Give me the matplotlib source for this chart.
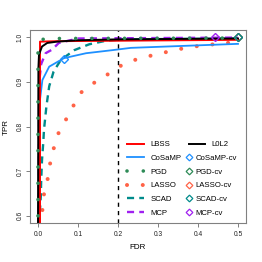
import matplotlib

matplotlib.use("Agg")
import matplotlib.pyplot as plt
from matplotlib.lines import Line2D

plt.rcParams["font.family"] = ["Liberation Sans", "DejaVu Sans"]

# ROC-style curves (FDR, TPR)
lbss_fdr = [0.005, 0.005, 0.05, 0.2, 0.5]
lbss_tpr = [0.58, 0.990, 0.991, 0.992, 0.994]

l0l2_fdr = [0.0, 0.001, 0.0025, 0.01, 0.023, 0.048, 0.098, 0.2, 0.5]
l0l2_tpr = [0.58, 0.93, 0.961, 0.979, 0.987, 0.990, 0.993, 0.995, 0.997]

cosamp_fdr = [0.002, 0.003, 0.005, 0.011, 0.028, 0.065, 0.12, 0.187, 0.232, 0.5]
cosamp_tpr = [0.58, 0.82, 0.86, 0.904, 0.934, 0.953, 0.964, 0.971, 0.976, 0.985]

pgd_fdr = [0.0, 0.0, 0.01, 0.036, 0.5]
pgd_tpr = [0.600, 0.985, 0.995, 0.997, 0.998]

lasso_fdr = [0.011, 0.015, 0.024, 0.030, 0.039, 0.050, 0.069, 0.087, 0.106,
             0.137, 0.170, 0.202, 0.238, 0.275, 0.313, 0.352, 0.390, 0.429,
             0.469, 0.505]
lasso_tpr = [0.613, 0.649, 0.682, 0.716, 0.750, 0.783, 0.814, 0.844, 0.875,
             0.896, 0.914, 0.934, 0.948, 0.957, 0.965, 0.973, 0.979, 0.983,
             0.987, 0.989]

scad_fdr = [0.003, 0.004, 0.007, 0.008, 0.010, 0.013, 0.015, 0.021, 0.028,
            0.039, 0.057, 0.091, 0.128, 0.170, 0.212, 0.5]
scad_tpr = [0.58, 0.600, 0.643, 0.680, 0.725, 0.762, 0.793, 0.845, 0.890,
            0.923, 0.949, 0.971, 0.984, 0.992, 0.995, 0.997]

mcp_fdr = [0.002, 0.003, 0.008, 0.019, 0.035, 0.052, 0.1, 0.5]
mcp_tpr = [0.58, 0.90, 0.94, 0.964, 0.972, 0.987, 0.997, 0.999]

# cross-validated choices (diamonds)
cv_names = ["CoSaMP-cv", "PGD-cv", "LASSO-cv", "SCAD-cv", "MCP-cv"]
cv_fdr = [0.065, 0.5, 0.5, 0.5, 0.442]
cv_tpr = [0.952, 1.0, 1.0, 1.0, 1.0]

RED = "#FF0000"
BLUE = "#1E90FF"
GREEN = "#2E8B57"
SALMON = "#FF6347"
TEAL = "#008B8B"
PURPLE = "#A020F0"
cv_colors = [BLUE, GREEN, SALMON, TEAL, PURPLE]

FRAME = "#808080"

fig = plt.figure(figsize=(2.62, 2.62), dpi=100)
ax = fig.add_axes([30 / 262, 1 - 223 / 262, 216 / 262, 193 / 262])

# dotted / dashed styles (in units of line width)
dot_pgd = (0, (0.01, 4.5))
dot_lasso = (0, (0.01, 3.9))
dash_style = (0, (3.0, 2.2))

ax.plot(lasso_fdr, lasso_tpr, color=SALMON, lw=2.9, linestyle=dot_lasso,
        dash_capstyle="round")
ax.plot(scad_fdr, scad_tpr, color=TEAL, lw=1.7, linestyle=dash_style)
ax.plot(mcp_fdr, mcp_tpr, color=PURPLE, lw=1.7, linestyle=dash_style)
ax.plot(cosamp_fdr, cosamp_tpr, color=BLUE, lw=1.3)
ax.plot(lbss_fdr, lbss_tpr, color=RED, lw=1.4)
ax.plot(l0l2_fdr, l0l2_tpr, color="black", lw=1.4)
ax.plot(pgd_fdr, pgd_tpr, color=GREEN, lw=2.6, linestyle=dot_pgd,
        dash_capstyle="round")

for x, y, c in zip(cv_fdr, cv_tpr, cv_colors):
    ax.plot([x], [y], marker="D", ms=4.2, mfc="none", mec=c, mew=1.0,
            linestyle="none")

ax.axvline(0.2, color="black", lw=1.0, linestyle=(0, (3, 3)))

ax.set_xlim(-0.02, 0.52)
ax.set_ylim(0.584, 1.016)
ax.set_xticks([0.0, 0.1, 0.2, 0.3, 0.4, 0.5])
ax.set_xticklabels(["0.0", "0.1", "0.2", "0.3", "0.4", "0.5"])
ax.set_yticks([0.6, 0.7, 0.8, 0.9, 1.0])
ax.set_yticklabels(["0.6", "0.7", "0.8", "0.9", "1.0"], rotation=90,
                   va="center")
ax.tick_params(axis="both", direction="out", length=3, width=0.7,
               color=FRAME, labelsize=4.8, labelcolor="#222222")
ax.tick_params(axis="x", pad=3.0)
ax.tick_params(axis="y", pad=1.6)
for sp in ax.spines.values():
    sp.set_color(FRAME)
    sp.set_linewidth(0.8)

ax.set_xlabel("FDR", fontsize=5.8, labelpad=4)
ax.set_ylabel("TPR", fontsize=5.8, labelpad=5)

# legends: three blocks like the reference
leg_kw = dict(frameon=False, fontsize=5.6, borderpad=0, borderaxespad=0,
              labelspacing=0.8, loc="upper left")

col1 = [
    Line2D([], [], color=RED, lw=1.4),
    Line2D([], [], color=BLUE, lw=1.3),
    Line2D([], [], color=GREEN, lw=2.6, linestyle=dot_pgd,
           dash_capstyle="round"),
    Line2D([], [], color=SALMON, lw=2.9, linestyle=dot_lasso,
           dash_capstyle="round"),
    Line2D([], [], color=TEAL, lw=1.7, linestyle=dash_style),
    Line2D([], [], color=PURPLE, lw=1.7, linestyle=dash_style),
]
leg1 = fig.legend(col1, ["LBSS", "CoSaMP", "PGD", "LASSO", "SCAD", "MCP"],
                  bbox_to_anchor=(127 / 262, 1 - 141 / 262),
                  handlelength=2.2, handletextpad=0.8, **leg_kw)

leg2 = fig.legend([Line2D([], [], color="black", lw=1.4)], ["L0L2"],
                  bbox_to_anchor=(189 / 262, 1 - 141 / 262),
                  handlelength=2.0, handletextpad=0.9, **leg_kw)

col3 = [Line2D([], [], marker="D", ms=3.4, mfc="none", mec=c, mew=0.9,
               linestyle="none") for c in cv_colors]
leg3 = fig.legend(col3, cv_names,
                  bbox_to_anchor=(187 / 262, 1 - 154.5 / 262),
                  handlelength=0.5, handletextpad=0.6, **leg_kw)

fig.savefig("out.png", dpi=100)
plt.close(fig)
